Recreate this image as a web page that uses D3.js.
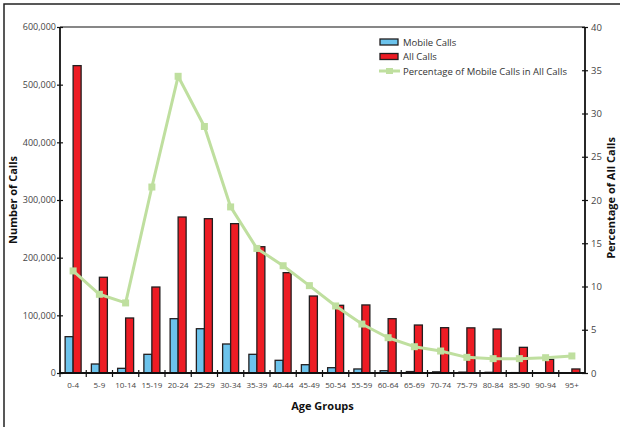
<!DOCTYPE html>
<html lang="en">
<head>
<meta charset="utf-8">
<title>Calls by age group</title>
<script src="https://d3js.org/d3.v7.min.js"></script>
<style>
  body { margin: 0; background: #fff; }
  .tick text { font-family: "Open Sans", sans-serif; fill: #444; }
  .title { font-family: "Open Sans", sans-serif; font-weight: 700; fill: #111; font-size: 11px; }
  .legend { font-family: "Open Sans", sans-serif; fill: #333; font-size: 9.5px; }
</style>
</head>
<body>
<div id="chart"></div>
<script>
const ageGroups = ["0-4","5-9","10-14","15-19","20-24","25-29","30-34","35-39","40-44","45-49",
  "50-54","55-59","60-64","65-69","70-74","75-79","80-84","85-90","90-94","95+"];
const mobileCalls = [63000,15600,8100,32400,94200,76800,50300,32400,22000,14400,
  9200,7000,4000,2500,2000,1500,1200,700,400,150];
const allCalls = [533000,166000,95400,149100,270500,267600,259000,219000,174000,133500,
  117400,118000,94200,83200,78600,78300,76300,44500,23700,7000];
const pctMobile = [11.8,9.1,8.1,21.5,34.3,28.5,19.2,14.4,12.4,10.1,
  7.75,5.66,4.08,3.04,2.54,1.81,1.66,1.66,1.77,1.97];
const leftTicks = [0,100000,200000,300000,400000,500000,600000];
const rightTicks = [0,5,10,15,20,25,30,35,40];

const w = 620, h = 427;
const m = {left: 60, right: 35, top: 27, bottom: 54};

const svg = d3.select("#chart").append("svg")
  .attr("width", w).attr("height", h);

// outer frame (top + left edges visible)
svg.append("path").attr("d", `M4,${h}V4H${w}`)
  .attr("fill", "none").attr("stroke", "#222").attr("stroke-width", 1.5);

const x = d3.scaleBand().domain(ageGroups).range([m.left, w - m.right]);
const yL = d3.scaleLinear().domain([0, 600000]).range([h - m.bottom, m.top]);
const yR = d3.scaleLinear().domain([0, 40]).range([h - m.bottom, m.top]);

const barW = 8;

// top border of plot
svg.append("line").attr("x1", m.left).attr("x2", w - m.right)
  .attr("y1", m.top).attr("y2", m.top).attr("stroke", "#111").attr("stroke-width", 1.2);

// bars
svg.append("g").selectAll("rect").data(ageGroups).join("rect")
  .attr("x", d => x(d) + x.bandwidth() / 2 - barW)
  .attr("y", (d, i) => yL(mobileCalls[i]))
  .attr("width", barW)
  .attr("height", (d, i) => yL(0) - yL(mobileCalls[i]))
  .attr("fill", "#6cc3ec").attr("stroke", "#231f20").attr("stroke-width", 1.3);

svg.append("g").selectAll("rect").data(ageGroups).join("rect")
  .attr("x", d => x(d) + x.bandwidth() / 2)
  .attr("y", (d, i) => yL(allCalls[i]))
  .attr("width", barW)
  .attr("height", (d, i) => yL(0) - yL(allCalls[i]))
  .attr("fill", "#ed1c24").attr("stroke", "#231f20").attr("stroke-width", 1.3);

// percentage line
const line = d3.line()
  .x((d, i) => x(ageGroups[i]) + x.bandwidth() / 2)
  .y(d => yR(d));
svg.append("path").datum(pctMobile).attr("d", line)
  .attr("fill", "none").attr("stroke", "#bfdf9f").attr("stroke-width", 3)
  .attr("stroke-linejoin", "round");
svg.append("g").selectAll("rect").data(pctMobile).join("rect")
  .attr("x", (d, i) => x(ageGroups[i]) + x.bandwidth() / 2 - 3.5)
  .attr("y", d => yR(d) - 3.5)
  .attr("width", 7).attr("height", 7)
  .attr("fill", "#bfdf9f");

// axes
const axL = svg.append("g").attr("transform", `translate(${m.left},0)`)
  .call(d3.axisLeft(yL).tickValues(leftTicks).tickFormat(d3.format(",")).tickSize(3).tickPadding(1));
axL.selectAll(".tick line").attr("x2", 3).attr("x1", -3);
axL.selectAll(".tick text").attr("font-size", 9);

const axR = svg.append("g").attr("transform", `translate(${w - m.right},0)`)
  .call(d3.axisRight(yR).tickValues(rightTicks).tickSize(3).tickPadding(3));
axR.selectAll(".tick line").attr("x1", -3).attr("x2", 3);
axR.selectAll(".tick text").attr("font-size", 9.5).attr("fill", "#555");

const axB = svg.append("g").attr("transform", `translate(0,${h - m.bottom})`)
  .call(d3.axisBottom(x).tickSize(0).tickPadding(9));
axB.selectAll(".tick text").attr("font-size", 8);
// boundary ticks between groups
axB.selectAll(".sep").data(ageGroups).join("line").attr("class", "sep")
  .attr("x1", d => x(d)).attr("x2", d => x(d))
  .attr("y1", -3).attr("y2", 4).attr("stroke", "#111").attr("stroke-width", 1.2);

[axL, axR, axB].forEach(a => {
  a.select(".domain").attr("stroke", "#111").attr("stroke-width", 1.8);
  a.selectAll(".tick line").attr("stroke", "#111").attr("stroke-width", 1.2);
});
axL.select(".domain").attr("d", `M0,${m.top}V${h - m.bottom}`);
axR.select(".domain").attr("d", `M0,${m.top}V${h - m.bottom}`);
axB.select(".domain").attr("d", `M${m.left},0H${w - m.right}`);

// axis titles
svg.append("text").attr("class", "title")
  .attr("transform", `translate(17,${(m.top + h - m.bottom) / 2}) rotate(-90)`)
  .attr("text-anchor", "middle").text("Number of Calls");
svg.append("text").attr("class", "title")
  .attr("transform", `translate(615,${(m.top + h - m.bottom) / 2 - 2}) rotate(-90)`)
  .attr("text-anchor", "middle").text("Percentage of All Calls");
svg.append("text").attr("class", "title")
  .attr("x", (m.left + w - m.right) / 2).attr("y", 410)
  .attr("text-anchor", "middle").text("Age Groups");

// legend
const lg = svg.append("g").attr("transform", "translate(380,42)");
const legendItems = [
  {label: "Mobile Calls", type: "bar", color: "#6cc3ec"},
  {label: "All Calls", type: "bar", color: "#ed1c24"},
  {label: "Percentage of Mobile Calls in All Calls", type: "line", color: "#bfdf9f"}
];
legendItems.forEach((it, i) => {
  const g = lg.append("g").attr("transform", `translate(0,${i * 14.5})`);
  if (it.type === "bar") {
    g.append("rect").attr("x", 0).attr("y", -3).attr("width", 18).attr("height", 6)
      .attr("fill", it.color).attr("stroke", "#231f20").attr("stroke-width", 1.3);
  } else {
    g.append("line").attr("x1", -1).attr("x2", 20).attr("y1", 0).attr("y2", 0)
      .attr("stroke", it.color).attr("stroke-width", 3);
    g.append("rect").attr("x", 6).attr("y", -3).attr("width", 7).attr("height", 6)
      .attr("fill", it.color);
  }
  g.append("text").attr("class", "legend").attr("x", 23).attr("y", 3.5).text(it.label);
});
</script>
</body>
</html>
